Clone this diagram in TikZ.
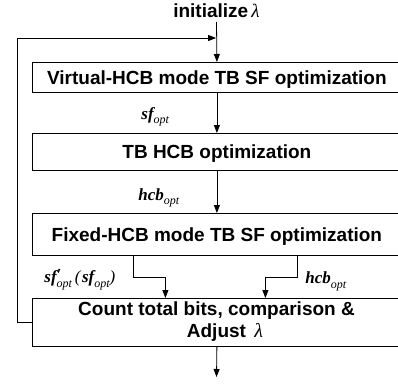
\documentclass[tikz,border=0pt]{standalone}
\usepackage{fontspec}
\setmainfont{Liberation Sans}
\newfontfamily\lblfont{Liberation Serif}
\usetikzlibrary{arrows.meta}

% bold italic variable name with a small italic subscript
\newcommand\optsub{\raisebox{-4.5pt}{\fontsize{12}{12}\selectfont\lblfont\itshape opt}}
\newcommand\varname[1]{{\fontsize{17}{17}\selectfont\lblfont\bfseries\itshape #1}}
\newcommand\primemark{\rlap{\raisebox{2pt}{\fontsize{17}{17}\selectfont\lblfont\bfseries\itshape ′}}}
\newcommand\lblparen[1]{{\fontsize{17}{17}\selectfont\lblfont\itshape #1}}

\begin{document}
\begin{tikzpicture}[x=1pt,y=-1pt,
  line width=0.8pt,
  arr/.style={-{Triangle[length=8pt,width=6pt]}},
  stage/.style={draw, anchor=north west, minimum width=369pt, inner sep=0pt,
    font=\fontsize{19}{22}\selectfont\bfseries, text height=13.6pt, text depth=0pt},
  btext/.style={anchor=base, inner sep=0pt, font=\fontsize{19}{22}\selectfont\bfseries},
  varlabel/.style={anchor=base west, inner sep=0pt}]
\useasboundingbox (0,0) rectangle (398,383);
\clip (0,0) rectangle (398,383);

% title and stage boxes
\node[anchor=base, inner sep=4pt, text depth=0pt,
      font=\fontsize{19}{22}\selectfont\bfseries] (init) at (216.5,17.5)
      {initialize\,{\lblfont\mdseries\itshape λ}};
\node[stage, minimum height=30pt] (b1) at (32,62) {Virtual-HCB mode TB SF optimization};
\node[stage, minimum height=37pt] (b2) at (32,133) {TB HCB optimization};
\node[stage, minimum height=42pt] (b3) at (32,213) {Fixed-HCB mode TB SF optimization};
\node[stage, minimum height=48pt] (b4) at (32,298) {};
\node[btext] (b4a) at (216.5,315.5) {Count total bits, comparison \&};
\node[btext] (b4b) at (225,337) {Adjust\, {\fontsize{20}{22}\selectfont\lblfont\mdseries\itshape λ}};

% variable labels
\node[varlabel] (l1) at (141,119) {\varname{sf}\optsub};
\node[varlabel] (l2) at (138,200) {\varname{hcb}\optsub};
\node[varlabel] (l3) at (44,282.5)
  {\varname{sf}\primemark\optsub\ \lblparen{(}\,\varname{sf}\optsub\lblparen{)}};
\node[varlabel] (l4) at (305,283.5) {\varname{hcb}\optsub};

% main flow
\draw[arr] (init.south) -- (b1.north);
\draw[arr] (b1.south) -- (b2.north);
\draw[arr] (b2.south) -- (b3.north);
\draw[arr] ([xshift=-83.5pt]b3.south) |- ([xshift=-51.5pt,yshift=21pt]b4.north)
  -- ([xshift=-51.5pt]b4.north);
\draw[arr] ([xshift=80.5pt]b3.south) |- ([xshift=48.5pt,yshift=21pt]b4.north)
  -- ([xshift=48.5pt]b4.north);
\coordinate (out) at (216.5,377);
\draw[arr] (b4.south) -- (out);

% feedback loop back to the top
\coordinate (fb) at (17,38);
\coordinate (fbend) at (216.1,38);
\draw[arr] (b4.west) -| (fb) -- (fbend);
\end{tikzpicture}
\end{document}
